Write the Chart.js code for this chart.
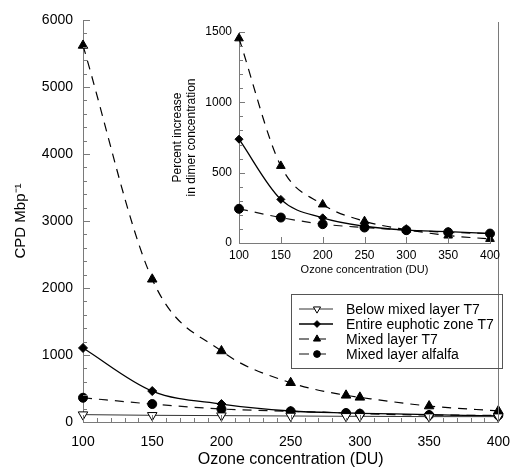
<!DOCTYPE html>
<html>
<head>
<meta charset="utf-8">
<script src="https://cdn.jsdelivr.net/npm/chart.js@4"></script>
<style>
  html, body { margin: 0; padding: 0; background: #fff; }
  #wrap { position: relative; width: 522px; height: 468px; }
  #main { position: absolute; left: 0; top: 0; }
  #inset { position: absolute; left: 160px; top: 15px; }
</style>
</head>
<body>
<div id="wrap">
  <canvas id="main" width="522" height="468"></canvas>
  <canvas id="inset" width="350" height="270"></canvas>
</div>
<script>
// ---------- DATA ----------
const ozoneMain = [100, 150, 200, 250, 290, 300, 350, 400];
const belowMixedT7 = [110, 100, 95, 90, 85, 85, 80, 80];
const entireEuphoticT7 = [1105, 462, 268, 164, 134, 130, 110, 90];
const mixedLayerT7 = [5620, 2130, 1060, 586, 398, 368, 238, 165];
const mixedLayerAlfalfa = [362, 268, 194, 160, 134, 124, 104, 100];

const ozoneInset = [100, 150, 200, 250, 300, 350, 400];
const insetEuphoticT7 = [738, 310, 179, 119, 91, 81, 67];
const insetMixedT7 = [1455, 548, 274, 155, 95, 53, 29];
const insetAlfalfa = [243, 181, 134, 110, 91, 76, 67];

const seriesNames = ['Below mixed layer T7', 'Entire euphotic zone T7', 'Mixed layer T7', 'Mixed layer alfalfa'];
const mainXTicks = [100, 150, 200, 250, 300, 350, 400];
const mainYTicks = [0, 1000, 2000, 3000, 4000, 5000, 6000];
const insetYTicks = [0, 500, 1000, 1500];

// ---------- HELPERS ----------
const FONT = '"Liberation Sans", Arial, Helvetica, sans-serif';
const AXIS = '#7a7a7a';
const pts = (xs, ys) => xs.map((x, i) => ({x: x, y: ys[i]}));
const plain = v => String(v);

const styles = [
  {borderColor: '#333', borderWidth: 1, borderDash: [], pointStyle: 'triangle', rotation: 180, bg: '#fff', r: 5.5, rIn: 5},
  {borderColor: '#000', borderWidth: 1.3, borderDash: [], pointStyle: 'rectRot', rotation: 0, bg: '#000', r: 4.5, rIn: 4},
  {borderColor: '#000', borderWidth: 1.2, borderDash: [9, 7], pointStyle: 'triangle', rotation: 0, bg: '#000', r: 5.5, rIn: 5},
  {borderColor: '#111', borderWidth: 1.2, borderDash: [9, 7], pointStyle: 'circle', rotation: 0, bg: '#000', r: 4.5, rIn: 4.5}
];

function mkDataset(label, data, s, inset) {
  return {
    label: label,
    data: data,
    borderColor: s.borderColor,
    borderWidth: s.borderWidth,
    borderDash: s.borderDash,
    backgroundColor: s.bg,
    pointStyle: s.pointStyle,
    pointRotation: s.rotation,
    pointRadius: inset ? s.rIn : s.r,
    pointBackgroundColor: s.bg,
    pointBorderColor: '#000',
    pointBorderWidth: 1,
    cubicInterpolationMode: 'monotone',
    fill: false,
    clip: false
  };
}

// inside tick marks & frame plugin
const tickPlugin = {
  id: 'insideTicks',
  afterDraw(chart, args, o) {
    const ctx = chart.ctx, xs = chart.scales.x, ys = chart.scales.y;
    const a = chart.chartArea;
    ctx.save();
    ctx.strokeStyle = AXIS;
    ctx.lineWidth = 1;
    ctx.beginPath();
    for (let v = ys.min; v <= ys.max + 1e-6; v += o.yMinor) {
      const y = Math.round(ys.getPixelForValue(v)) + 0.5;
      const len = (Math.abs(v % o.yMajor) < 1e-6) ? o.majorLen : o.minorLen;
      ctx.moveTo(a.left, y); ctx.lineTo(a.left + len, y);
    }
    for (let v = xs.min; v <= xs.max + 1e-6; v += o.xMinor) {
      const x = Math.round(xs.getPixelForValue(v)) + 0.5;
      const len = (Math.abs(v % o.xMajor) < 1e-6) ? o.majorLen : o.minorLen;
      ctx.moveTo(x, a.bottom); ctx.lineTo(x, a.bottom - len);
    }
    if (o.rightBorder) {
      const x = Math.round(a.right) + 0.5;
      ctx.moveTo(x, a.top + 2); ctx.lineTo(x, a.bottom);
    }
    ctx.stroke();
    ctx.restore();
  }
};

// legend plugin (main chart)
const legendPlugin = {
  id: 'boxLegend',
  afterDraw(chart, args, o) {
    const ctx = chart.ctx;
    ctx.save();
    ctx.strokeStyle = '#555';
    ctx.lineWidth = 1;
    ctx.strokeRect(o.x + 0.5, o.y + 0.5, o.w, o.h);
    ctx.font = '14px ' + FONT;
    ctx.fillStyle = '#000';
    ctx.textBaseline = 'middle';
    chart.data.datasets.forEach((ds, i) => {
      const y = o.y + o.firstRow + i * o.rowH;
      ctx.save();
      ctx.strokeStyle = ds.borderColor;
      ctx.lineWidth = ds.borderWidth;
      ctx.setLineDash(ds.borderDash && ds.borderDash.length ? [10, 7] : []);
      ctx.beginPath();
      ctx.moveTo(o.x + 8, y); ctx.lineTo(o.x + 42, y);
      ctx.stroke();
      ctx.setLineDash([]);
      ctx.fillStyle = ds.pointBackgroundColor;
      ctx.strokeStyle = '#000';
      ctx.lineWidth = 1;
      Chart.helpers.drawPoint(ctx, {pointStyle: ds.pointStyle, rotation: ds.pointRotation, radius: ds.pointRadius * 0.75, borderWidth: 1}, o.x + 26, y);
      ctx.restore();
      ctx.fillText(ds.label, o.x + 55, y + 1);
    });
    ctx.restore();
  }
};

// ---------- MAIN CHART ----------
new Chart(document.getElementById('main'), {
  type: 'line',
  data: {
    datasets: [
      mkDataset(seriesNames[0], pts(ozoneMain, belowMixedT7), styles[0], false),
      mkDataset(seriesNames[1], pts(ozoneMain, entireEuphoticT7), styles[1], false),
      mkDataset(seriesNames[2], pts(ozoneMain, mixedLayerT7), styles[2], false),
      mkDataset(seriesNames[3], pts(ozoneMain, mixedLayerAlfalfa), styles[3], false)
    ]
  },
  options: {
    responsive: false,
    animation: false,
    layout: {padding: {left: 0, top: 20, right: 13, bottom: 0}},
    plugins: {
      legend: {display: false},
      tooltip: {enabled: false},
      insideTicks: {xMinor: 10, xMajor: 50, yMinor: 200, yMajor: 1000, majorLen: 7, minorLen: 4, rightBorder: true},
      boxLegend: {x: 291, y: 294, w: 211, h: 74, firstRow: 15, rowH: 15}
    },
    scales: {
      x: {
        type: 'linear', min: 100, max: 400,
        afterFit: s => { s.height = 46; },
        afterBuildTicks: s => { s.ticks = mainXTicks.map(v => ({value: v})); },
        grid: {display: false, drawTicks: false},
        border: {display: true, color: AXIS, width: 1},
        ticks: {color: '#000', font: {family: FONT, size: 14}, padding: 12, maxRotation: 0, callback: plain},
        title: {display: true, text: 'Ozone concentration (DU)', color: '#000', font: {family: FONT, size: 16, lineHeight: 1}, padding: {top: 0, bottom: 0}}
      },
      y: {
        type: 'linear', min: 0, max: 6000,
        afterFit: s => { s.width = 83; },
        afterBuildTicks: s => { s.ticks = mainYTicks.map(v => ({value: v})); },
        grid: {display: false, drawTicks: false},
        border: {display: true, color: AXIS, width: 1},
        ticks: {color: '#000', font: {family: FONT, size: 14}, padding: 10, callback: plain},
        title: {display: true, text: 'CPD Mbp\u207B\u00B9', color: '#000', font: {family: FONT, size: 15}, padding: {top: 12, bottom: 0}}
      }
    }
  },
  plugins: [tickPlugin, legendPlugin]
});

// ---------- INSET CHART ----------
new Chart(document.getElementById('inset'), {
  type: 'line',
  data: {
    datasets: [
      mkDataset(seriesNames[1], pts(ozoneInset, insetEuphoticT7), styles[1], true),
      mkDataset(seriesNames[2], pts(ozoneInset, insetMixedT7), styles[2], true),
      mkDataset(seriesNames[3], pts(ozoneInset, insetAlfalfa), styles[3], true)
    ]
  },
  options: {
    responsive: false,
    animation: false,
    layout: {padding: {left: 0, top: 17, right: 20, bottom: 0}},
    plugins: {
      legend: {display: false},
      tooltip: {enabled: false},
      insideTicks: {xMinor: 50, xMajor: 50, yMinor: 100, yMajor: 500, majorLen: 6, minorLen: 4, rightBorder: false}
    },
    scales: {
      x: {
        type: 'linear', min: 100, max: 400,
        afterFit: s => { s.height = 42; },
        afterBuildTicks: s => { s.ticks = mainXTicks.map(v => ({value: v})); },
        grid: {display: false, drawTicks: false},
        border: {display: true, color: AXIS, width: 1},
        ticks: {color: '#000', font: {family: FONT, size: 12}, padding: 5, maxRotation: 0, callback: plain},
        title: {display: true, text: 'Ozone concentration (DU)', color: '#000', font: {family: FONT, size: 11}, padding: {top: 0, bottom: 8}}
      },
      y: {
        type: 'linear', min: 0, max: 1500,
        afterFit: s => { s.width = 79; },
        afterBuildTicks: s => { s.ticks = insetYTicks.map(v => ({value: v})); },
        grid: {display: false, drawTicks: false},
        border: {display: true, color: AXIS, width: 1},
        ticks: {color: '#000', font: {family: FONT, size: 12}, padding: 7, callback: plain},
        title: {display: true, text: ['Percent increase', 'in dimer concentration'], color: '#000', font: {family: FONT, size: 12}, padding: {top: 10, bottom: 0}}
      }
    }
  },
  plugins: [tickPlugin]
});
</script>
</body>
</html>
